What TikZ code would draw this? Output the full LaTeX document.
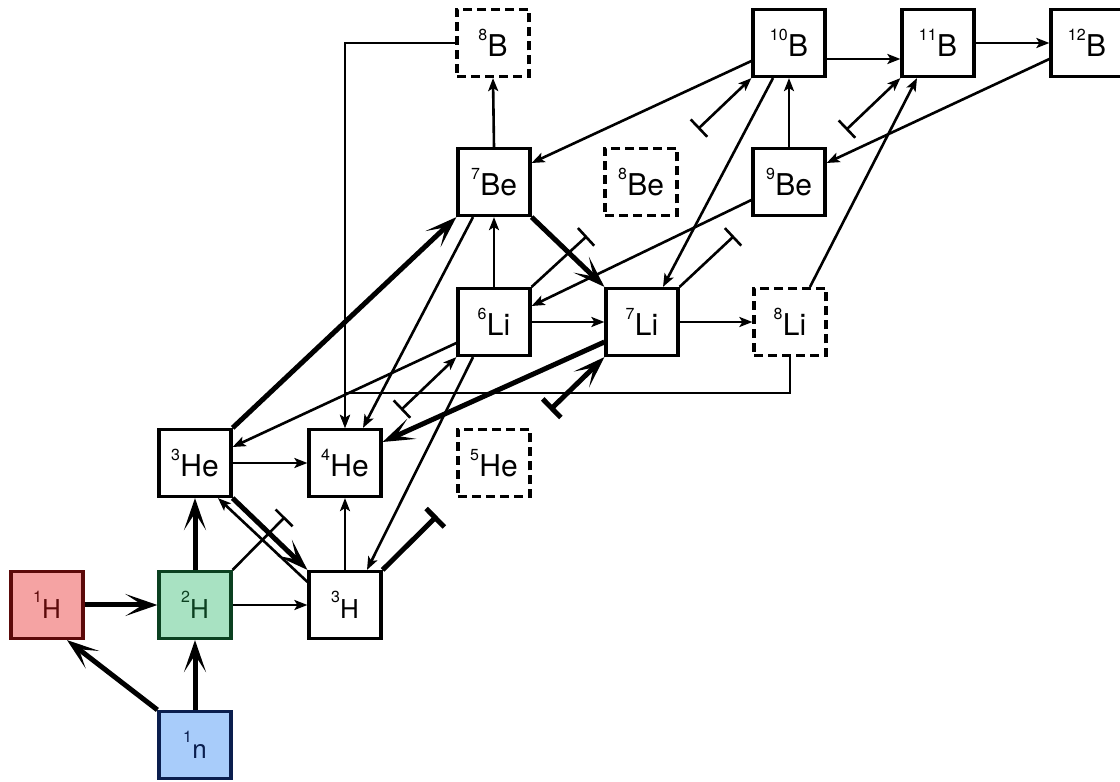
\documentclass[tikz,border=0pt]{standalone}
\usepackage{fontspec}
\setmainfont{TeX Gyre Heros}
\usetikzlibrary{arrows.meta,calc}
\definecolor{hred}{HTML}{F5A3A3}
\definecolor{hredd}{HTML}{5C0A0A}
\definecolor{hgreen}{HTML}{A8E2C2}
\definecolor{hgreend}{HTML}{0B4020}
\definecolor{hblue}{HTML}{A8CCFA}
\definecolor{hblued}{HTML}{0A1E4E}
\newcommand\iso[2]{\raisebox{16pt}{\fontsize{16}{16}\selectfont #1}\kern0.3pt#2}
\tikzset{
  nuc/.style={draw, fill=white, line width=3.2pt, minimum width=72pt, minimum height=67pt, inner sep=0pt, font=\fontsize{30}{30}\selectfont},
  hnuc/.style={nuc, font=\fontsize{26}{26}\selectfont},
  dnuc/.style={nuc, dash pattern=on 9pt off 5pt},
  tarr/.style={line width=2.6pt, -{Stealth[length=13pt,width=10pt,inset=3pt]}},
  karr/.style={line width=5pt, -{Stealth[length=32pt,width=22pt,inset=17pt]}},
  tbar/.style={line width=2.6pt, -{Bar[width=24pt]}},
  kbar/.style={line width=5pt, -{Bar[width=26pt]}},
  tbararr/.style={line width=2.6pt, {Bar[width=24pt]}-{Stealth[length=13pt,width=10pt,inset=3pt]}},
  kbararr/.style={line width=5pt, {Bar[width=26pt]}-{Stealth[length=32pt,width=22pt,inset=17pt]}},
}
\begin{document}
\begin{tikzpicture}[x=1pt,y=1pt]
\useasboundingbox (0,0) rectangle (1120,782);
\fill[white] (0,0) rectangle (1120,782);
% nodes
\node[hnuc, fill=hred, draw=hredd, text=hredd] (H1) at (47,177) {\iso{1}{H}};
\node[hnuc, fill=hgreen, draw=hgreend, text=hgreend] (H2) at (195,177) {\iso{2}{H}};
\node[hnuc, fill=hblue, draw=hblued, text=hblued] (n1) at (195,37) {\iso{1}{n}};
\node[hnuc] (H3) at (345,177) {\iso{3}{H}};
\node[nuc] (He3) at (195,319) {\iso{3}{He}};
\node[nuc] (He4) at (345,319) {\iso{4}{He}};
\node[dnuc] (He5) at (494,319) {\iso{5}{He}};
\node[nuc] (Li6) at (494,460) {\iso{6}{Li}};
\node[nuc] (Li7) at (642,460) {\iso{7}{Li}};
\node[dnuc] (Li8) at (790,460) {\iso{8}{Li}};
\node[nuc] (Be7) at (494,600) {\iso{7}{Be}};
\node[dnuc] (Be8) at (641,600) {\iso{8}{Be}};
\node[nuc] (Be9) at (789,600) {\iso{9}{Be}};
\node[dnuc] (B8) at (493,739) {\iso{8}{B}};
\node[nuc] (B10) at (789,739) {\iso{10}{B}};
\node[nuc] (B11) at (938,739) {\iso{11}{B}};
\node[nuc] (B12) at (1087,739) {\iso{12}{B}};
% free ends of barred connectors
\coordinate (b1) at (285,265);
\coordinate (b2) at (437,266);
\coordinate (b3) at (401,372);
\coordinate (b4) at (550,372);
\coordinate (b5) at (587,546);
\coordinate (b6) at (734,546);
\coordinate (b7) at (698,653);
\coordinate (b8) at (846,652);
% connectors
\draw[karr] (n1.north west) -- ([xshift=20pt]H1.south);
\draw[karr] (n1.north) -- (H2.south);
\draw[karr] (H1.east) -- (H2.west);
\draw[karr] (H2.north) -- (He3.south);
\draw[tarr] (H2.east) -- (H3.west);
\draw[tbar] (H2.north east) -- (b1);
\draw[karr] (He3.south east) -- (H3.north west);
\draw[tarr] ([yshift=-12pt]H3.north west) -- ([xshift=23pt]He3.south);
\draw[tarr] (H3.north) -- (He4.south);
\draw[kbar] (H3.north east) -- (b2);
\draw[tarr] (He3.east) -- (He4.west);
\draw[karr] (He3.north east) -- (Be7.south west);
\draw[tarr] ([yshift=-21pt]Li6.west) -- ([yshift=16pt]He3.east);
\draw[tarr] (B8.west) -| (He4.north);
\draw[tarr] (Li8.south) |- ([yshift=35pt]He4.north) -- (He4.north);
\draw[tarr] ([xshift=-21pt]Be7.south) -- ([xshift=18pt]He4.north);
\draw[karr] ([yshift=-20pt]Li7.west) -- ([yshift=21pt]He4.east);
\draw[tbararr] (b3) -- (Li6.south west);
\draw[tarr] ([xshift=-21pt]Li6.south) -- ([xshift=22pt]H3.north);
\draw[tarr] (Li6.north) -- (Be7.south);
\draw[tarr] (Li6.east) -- (Li7.west);
\draw[karr] (Be7.south east) -- (Li7.north west);
\draw[tbar] (Li6.north east) -- (b5);
\draw[tarr] ([yshift=-18pt]Be9.west) -- ([yshift=16pt]Li6.east);
\draw[tarr] ([xshift=-16pt]B10.south) -- ([xshift=21pt]Li7.north);
\draw[tbar] (Li7.north east) -- (b6);
\draw[tarr] (Li7.east) -- (Li8.west);
\draw[kbararr] (b4) -- (Li7.south west);
\draw[tarr] ([xshift=20pt]Li8.north) -- ([xshift=-21pt]B11.south);
\draw[tarr] (Be7.north) -- (B8.south);
\draw[tarr] ([yshift=-18pt]B10.west) -- ([yshift=19pt]Be7.east);
\draw[tbararr] (b7) -- (B10.south west);
\draw[tarr] (Be9.north) -- (B10.south);
\draw[tarr] ([yshift=-16pt]B10.east) -- ([yshift=-16pt]B11.west);
\draw[tbararr] (b8) -- (B11.south west);
\draw[tarr] ([yshift=-16pt]B12.west) -- ([yshift=19pt]Be9.east);
\draw[tarr] (B11.east) -- (B12.west);
\end{tikzpicture}
\end{document}
